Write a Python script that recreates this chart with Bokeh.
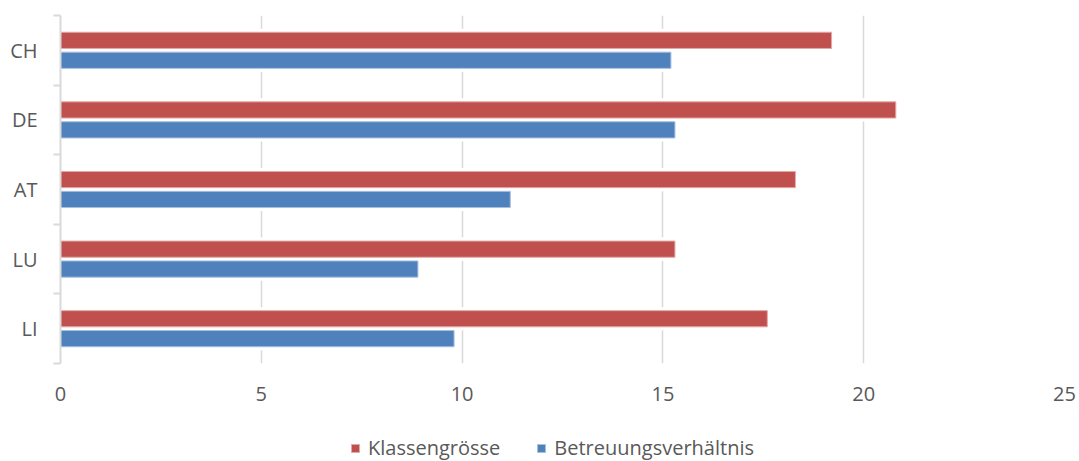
from bokeh.plotting import figure
from bokeh.models import (ColumnDataSource, FixedTicker, Legend, LegendItem, Range1d)
from bokeh.layouts import column
from bokeh.embed import file_html
from bokeh.resources import INLINE

# ---- data ----
categories = ["CH", "DE", "AT", "LU", "LI"]
klassengroesse = [19.2, 20.8, 18.3, 15.3, 17.6]
betreuungsverhaeltnis = [15.2, 15.3, 11.2, 8.9, 9.8]
series_names = ["Klassengrösse", "Betreuungsverhältnis"]
x_ticks = [0, 5, 10, 15, 20, 25]

# ---- styles ----
RED = "#C0504D"
BLUE = "#4F81BD"
RED_EDGE = "#E2A9A8"
BLUE_EDGE = "#A7C0DE"
TEXT = "#595959"
GRID = "#D9D9D9"
FONT = "Open Sans"

n = len(categories)
centers = [n - 1 - i + 0.5 for i in range(n)]
DODGE = 0.143
BAR_H = 0.233
HALO_H = BAR_H + 0.10
HALO_X = 0.087

src = ColumnDataSource(dict(
    cat=categories,
    y_red=[c + DODGE for c in centers],
    y_blue=[c - DODGE for c in centers],
    red=klassengroesse,
    blue=betreuungsverhaeltnis,
    red_halo=[v + HALO_X for v in klassengroesse],
    blue_halo=[v + HALO_X for v in betreuungsverhaeltnis],
))

p = figure(width=1079, height=420, output_backend="svg", toolbar_location=None,
           x_range=Range1d(0, 25), y_range=Range1d(0, n),
           min_border_left=60, min_border_right=15, min_border_top=15,
           min_border_bottom=57)
p.outline_line_color = None
p.background_fill_color = "white"
p.border_fill_color = "white"

# white halos behind bars (hide gridlines around bars)
p.hbar(y="y_red", left=0, right="red_halo", height=HALO_H, source=src,
       fill_color="white", line_color=None)
p.hbar(y="y_blue", left=0, right="blue_halo", height=HALO_H, source=src,
       fill_color="white", line_color=None)

bar_red = dict(fill_color=RED, line_color=RED_EDGE, line_width=1)
bar_blue = dict(fill_color=BLUE, line_color=BLUE_EDGE, line_width=1)
p.hbar(y="y_red", left=0, right="red", height=BAR_H, source=src, **bar_red)
p.hbar(y="y_blue", left=0, right="blue", height=BAR_H, source=src, **bar_blue)

# x axis
xa = p.xaxis[0]
xa.ticker = FixedTicker(ticks=x_ticks, minor_ticks=[])
xa.axis_line_color = None
xa.major_tick_line_color = None
xa.minor_tick_line_color = None
xa.major_tick_out = 0
xa.major_tick_in = 0
xa.minor_tick_out = 0
xa.minor_tick_in = 0
xa.major_label_standoff = 23
xa.major_label_text_font = FONT
xa.major_label_text_font_size = "20px"
xa.major_label_text_color = TEXT

# y axis: labels at centers, ticks at category boundaries
ya = p.yaxis[0]
ya.ticker = FixedTicker(ticks=centers, minor_ticks=[float(i) for i in range(n + 1)])
ya.major_label_overrides = {c: categories[i] for i, c in enumerate(centers)}
ya.major_tick_line_color = None
ya.major_tick_out = 0
ya.major_tick_in = 0
ya.minor_tick_line_color = GRID
ya.minor_tick_line_width = 2
ya.minor_tick_out = 7
ya.minor_tick_in = 0
ya.axis_line_color = GRID
ya.axis_line_width = 2
ya.major_label_standoff = 16
ya.major_label_text_font = FONT
ya.major_label_text_font_size = "20px"
ya.major_label_text_color = TEXT

# grid
p.xgrid.ticker = FixedTicker(ticks=x_ticks)
p.xgrid.grid_line_color = GRID
p.xgrid.grid_line_width = 1.5
p.ygrid.grid_line_color = None

# ---- legend strip (separate figure below the chart) ----
pl = figure(width=1079, height=41, output_backend="svg", toolbar_location=None,
            x_range=Range1d(0, 25), y_range=Range1d(100, 101),
            x_axis_location=None, y_axis_location=None,
            min_border_left=0, min_border_right=0, min_border_top=0,
            min_border_bottom=0)
pl.outline_line_color = None
pl.grid.visible = False
pl.background_fill_color = "white"
pl.border_fill_color = "white"
lr = pl.hbar(y="y_red", left=0, right="red", height=BAR_H, source=src, **bar_red)
lb = pl.hbar(y="y_blue", left=0, right="blue", height=BAR_H, source=src, **bar_blue)

legend = Legend(items=[LegendItem(label=series_names[0], renderers=[lr]),
                       LegendItem(label=series_names[1], renderers=[lb])],
                orientation="horizontal", location=(290, 0),
                glyph_width=10, glyph_height=10, label_standoff=8, spacing=36,
                padding=0, margin=0, border_line_color=None,
                background_fill_alpha=0,
                label_text_font=FONT, label_text_font_size="20px",
                label_text_color=TEXT)
pl.add_layout(legend)

layout = column(p, pl, spacing=0)
open("out.html", "w").write(file_html(layout, INLINE))
